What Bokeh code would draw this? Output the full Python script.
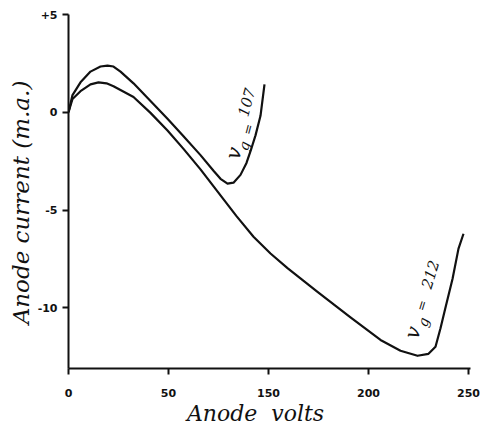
import math
from bokeh.plotting import figure
from bokeh.models import Label, FixedTicker, Range1d
from bokeh.embed import file_html
from bokeh.resources import INLINE

# ---- data (x in axis units, y in m.a.) ----
vg107_x = [0, 2, 6, 11, 16, 19.5, 22.5, 26, 32.5, 41, 49.5, 57.5, 66, 72.5, 76,
           79.5, 82.5, 86, 89, 91, 93.5, 96, 98]
vg107_y = [0, 0.88, 1.53, 2.08, 2.34, 2.39, 2.34, 2.08, 1.48, 0.58, -0.33, -1.23,
           -2.19, -2.99, -3.40, -3.65, -3.60, -3.20, -2.59, -1.99, -1.18, -0.18, 1.43]

vg212_x = [0, 2, 6, 11, 15, 19, 22.5, 32.5, 41, 49.5, 57.5, 66, 76, 84, 92.5, 101,
           109.5, 124.5, 141, 156, 166, 174.5, 180, 183.5, 186, 188.5, 192, 195, 197.5]
vg212_y = [0, 0.68, 1.08, 1.43, 1.53, 1.48, 1.33, 0.78, -0.03, -0.93, -1.87, -2.92,
           -4.25, -5.31, -6.36, -7.22, -7.97, -9.18, -10.49, -11.64, -12.19, -12.45,
           -12.35, -11.99, -11.04, -9.98, -8.52, -6.97, -6.21]

x_tick_positions = [0, 50, 100, 150, 200]
x_tick_labels = ["0", "50", "150", "200", "250"]
y_tick_positions = [5, 0, -5, -10]
y_tick_labels = ["+5", "0", "-5", "-10"]

INK = "#111111"
NB = "\u00a0"

p = figure(width=480, height=428, output_backend="svg", toolbar_location=None,
           x_range=Range1d(0, 201), y_range=Range1d(-13.1, 5.0),
           min_border_left=68, min_border_right=10, min_border_top=14,
           min_border_bottom=54)
p.outline_line_color = None
p.grid.grid_line_color = None
p.background_fill_color = "white"
p.border_fill_color = "white"

for ax in (p.xaxis[0], p.yaxis[0]):
    ax.axis_line_width = 2
    ax.axis_line_color = INK
    ax.major_tick_line_width = 2
    ax.major_tick_line_color = INK
    ax.major_tick_in = 0
    ax.major_tick_out = 6
    ax.minor_tick_line_color = None
    ax.major_label_text_font = "DejaVu Sans"
    ax.major_label_text_font_style = "bold"
    ax.major_label_text_font_size = "11px"
    ax.major_label_text_color = INK
    ax.axis_label_text_font = "DejaVu Serif"
    ax.axis_label_text_font_style = "italic"
    ax.axis_label_text_color = INK

p.xaxis.ticker = FixedTicker(ticks=x_tick_positions)
p.xaxis.major_label_overrides = {t: l for t, l in zip(x_tick_positions, x_tick_labels)}
p.xaxis.major_label_standoff = 14
p.xaxis.axis_label = "Anode" + NB + NB + "volts" + NB * 4
p.xaxis.axis_label_standoff = 1
p.xaxis.axis_label_text_font_size = "22px"

p.yaxis.ticker = FixedTicker(ticks=y_tick_positions)
p.yaxis.major_label_overrides = {t: l for t, l in zip(y_tick_positions, y_tick_labels)}
p.yaxis.major_label_standoff = 5
p.yaxis.axis_label = "Anode" + NB + "current" + NB + "(m.a.)" + NB * 3
p.yaxis.axis_label_standoff = 1
p.yaxis.axis_label_text_font_size = "23px"

p.line(vg107_x, vg107_y, line_width=2.2, line_color=INK, line_join="round")
p.line(vg212_x, vg212_y, line_width=2.2, line_color=INK, line_join="round")

# curve labels
def curve_label(parts, angle_deg, num):
    a = math.radians(angle_deg)
    (vx, vy), (gx, gy), (ex, ey), (nx, ny) = parts
    p.add_layout(Label(x=vx, y=vy, text="v", angle=a, text_align="center",
                       text_baseline="middle", text_font="DejaVu Serif",
                       text_font_style="italic", text_font_size="21px", text_color=INK))
    p.add_layout(Label(x=gx, y=gy, text="g", angle=a, text_align="center",
                       text_baseline="middle", text_font="DejaVu Serif",
                       text_font_style="italic", text_font_size="14px", text_color=INK))
    p.add_layout(Label(x=ex, y=ey, text="=", angle=a, text_align="center",
                       text_baseline="middle", text_font="DejaVu Serif",
                       text_font_size="13px", text_color=INK))
    p.add_layout(Label(x=nx, y=ny, text=num, angle=a, text_align="center",
                       text_baseline="middle", text_font="DejaVu Serif",
                       text_font_style="italic", text_font_size="15px", text_color=INK))

curve_label([(82.6, -2.09), (87.8, -1.72), (89.8, -0.87), (89.0, 0.51)], 75, "107")
curve_label([(172.2, -11.26), (177.4, -10.72), (176.6, -9.88), (180.8, -8.29)], 73, "212")

open("out.html", "w").write(file_html(p, INLINE))
